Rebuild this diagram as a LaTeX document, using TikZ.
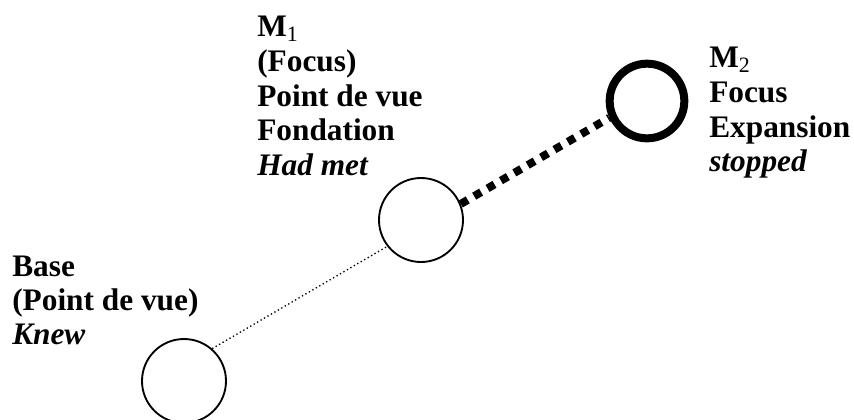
\documentclass[tikz,border=0pt]{standalone}
\usepackage{fontspec}
\setmainfont{Liberation Serif}

\begin{document}
\begin{tikzpicture}[x=0.75pt, y=-0.75pt,
  blob/.style={circle, draw, line width=1.4pt, minimum size=63pt, inner sep=0pt},
  bigblob/.style={circle, draw, line width=6pt, minimum size=56pt, inner sep=0pt},
  lbl/.style={anchor=north west, align=left, inner sep=0pt,
    font=\fontsize{23.5}{25.5}\selectfont\bfseries},
  lblwide/.style={lbl, font=\fontsize{23.5}{26}\selectfont\bfseries}]
  \useasboundingbox (0,0) rectangle (854,419);

  % the three circles
  \node[blob] (base) at (184,381) {};
  \node[blob] (m1) at (421,220) {};
  \node[bigblob] (m2) at (647,101) {};

  \draw[line width=1pt, dotted] (base.49) -- (m1.218);
  \draw[line width=6pt, dash pattern=on 6pt off 5.6pt] (m1.22) -- (m2.204);

  % labels
  \node[lbl] (tbase) at (12,256) {Base\\(Point de vue)\\\textit{Knew}};
  \node[lblwide] (tm1) at (257,16) {M\textsubscript{\normalfont 1}\\(Focus)\\Point de vue\\Fondation\\\textit{Had met}};
  \node[lblwide] (tm2) at (709,47) {M\textsubscript{\normalfont 2}\\Focus\\Expansion\\\textit{stopped}};
\end{tikzpicture}
\end{document}
